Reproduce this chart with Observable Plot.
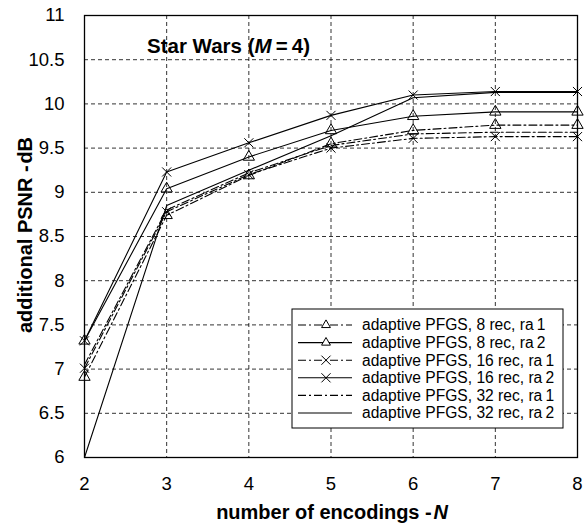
<!DOCTYPE html>
<html><head><meta charset="utf-8">
<script src="https://cdn.jsdelivr.net/npm/d3@7"></script>
<script src="https://cdn.jsdelivr.net/npm/@observablehq/plot@0.6"></script>
<style>body{margin:0;background:#fff;font-family:"Liberation Sans",Arial,sans-serif}</style>
</head><body><div id="chart"></div>
<script>
const N = [2, 3, 4, 5, 6, 7, 8];
const s8ra1  = [6.91, 8.74, 9.19, 9.55, 9.70, 9.76, 9.76];
const s8ra2  = [7.32, 9.04, 9.40, 9.70, 9.86, 9.91, 9.91];
const s16ra1 = [7.01, 8.78, 9.20, 9.50, 9.61, 9.63, 9.63];
const s16ra2 = [7.32, 9.23, 9.56, 9.87, 10.10, 10.14, 10.14];
const s32ra1 = [7.05, 8.80, 9.22, 9.53, 9.66, 9.68, 9.68];
const s32ra2 = [6.00, 8.85, 9.25, 9.64, 10.07, 10.13, 10.13];
const seriesNames = ["adaptive PFGS, 8 rec, ra\u20091", "adaptive PFGS, 8 rec, ra\u20092",
  "adaptive PFGS, 16 rec, ra\u20091", "adaptive PFGS, 16 rec, ra\u20092",
  "adaptive PFGS, 32 rec, ra\u20091", "adaptive PFGS, 32 rec, ra\u20092"];
const seriesValues = [s8ra1, s8ra2, s16ra1, s16ra2, s32ra1, s32ra2];
const seriesSymbols = ["triangle", "triangle", "times", "times", null, null];
const seriesDash = ["8,3,2,3", null, "8,3,2,3", null, "8,3,2,3", null];
const yTicks = [6, 6.5, 7, 7.5, 8, 8.5, 9, 9.5, 10, 10.5, 11];

const marks = [
  Plot.gridX(N.slice(1, -1), {stroke: "#000", strokeOpacity: 0.8, strokeDasharray: "4,3"}),
  Plot.gridY(yTicks.slice(1, -1), {stroke: "#000", strokeOpacity: 0.8, strokeDasharray: "4,3"}),
  Plot.frame({stroke: "#000", strokeWidth: 1.3})
];
seriesValues.forEach((vals, i) => {
  const data = N.map((n, j) => ({n, v: vals[j]}));
  marks.push(Plot.line(data, {x: "n", y: "v", stroke: "#000", strokeWidth: 1.1, strokeDasharray: seriesDash[i] || undefined}));
  if (seriesSymbols[i]) marks.push(Plot.dot(data, {x: "n", y: "v", symbol: seriesSymbols[i], r: 4.2, stroke: "#000", fill: "none", strokeWidth: 1}));
});
marks.push(Plot.axisX(N, {tickSize: 0, tickPadding: 19, fontSize: 18.5, label: null}));
marks.push(Plot.axisY(yTicks, {tickSize: 0, tickPadding: 20, fontSize: 18.5, label: null, tickFormat: d => String(d)}));

const plot = Plot.plot({
  width: 585, height: 524,
  marginLeft: 84, marginRight: 8, marginTop: 15, marginBottom: 67,
  x: {domain: [2, 8]},
  y: {domain: [6, 11]},
  style: {fontFamily: "Liberation Sans, Arial, sans-serif", color: "#000", background: "#fff"},
  marks
});
document.getElementById("chart").appendChild(plot);

const svg = d3.select(plot);
// title
const t = svg.append("text").attr("x", 147).attr("y", 53).attr("text-anchor", "start").attr("font-size", 20.5).attr("font-weight", "bold").attr("fill", "#000");
t.append("tspan").text("Star Wars (");
t.append("tspan").attr("font-style", "italic").text("M");
t.append("tspan").text("\u2009=\u20094)");
// x label
const xl = svg.append("text").attr("x", 332).attr("y", 519).attr("text-anchor", "middle").attr("font-size", 20).attr("font-weight", "bold").attr("fill", "#000");
xl.append("tspan").text("number of encodings -\u200a");
xl.append("tspan").attr("font-style", "italic").text("N");
// y label
svg.append("text").attr("transform", "translate(32,235) rotate(-90)").attr("text-anchor", "middle").attr("font-size", 20).attr("font-weight", "bold").attr("fill", "#000").text("additional PSNR -\u200adB");
// legend
const lg = svg.append("g");
lg.append("rect").attr("x", 292).attr("y", 309).attr("width", 271).attr("height", 119).attr("fill", "#fff").attr("stroke", "#000").attr("stroke-width", 1);
seriesNames.forEach((name, i) => {
  const y = 325 + i * 17.6;
  const ln = lg.append("line").attr("x1", 298).attr("x2", 352).attr("y1", y).attr("y2", y).attr("stroke", "#000").attr("stroke-width", 1.1);
  if (seriesDash[i]) ln.attr("stroke-dasharray", seriesDash[i]);
  if (seriesSymbols[i]) {
    const sym = d3.symbol(seriesSymbols[i] === "triangle" ? d3.symbolTriangle2 : d3.symbolTimes, 56);
    lg.append("path").attr("d", sym()).attr("transform", `translate(326,${y})`).attr("fill", "#fff").attr("stroke", "#000").attr("stroke-width", 1);
  }
  lg.append("text").attr("x", 362).attr("y", y + 5.4).attr("text-anchor", "start").attr("font-size", 15.6).attr("fill", "#000").text(name);
});
</script></body></html>
